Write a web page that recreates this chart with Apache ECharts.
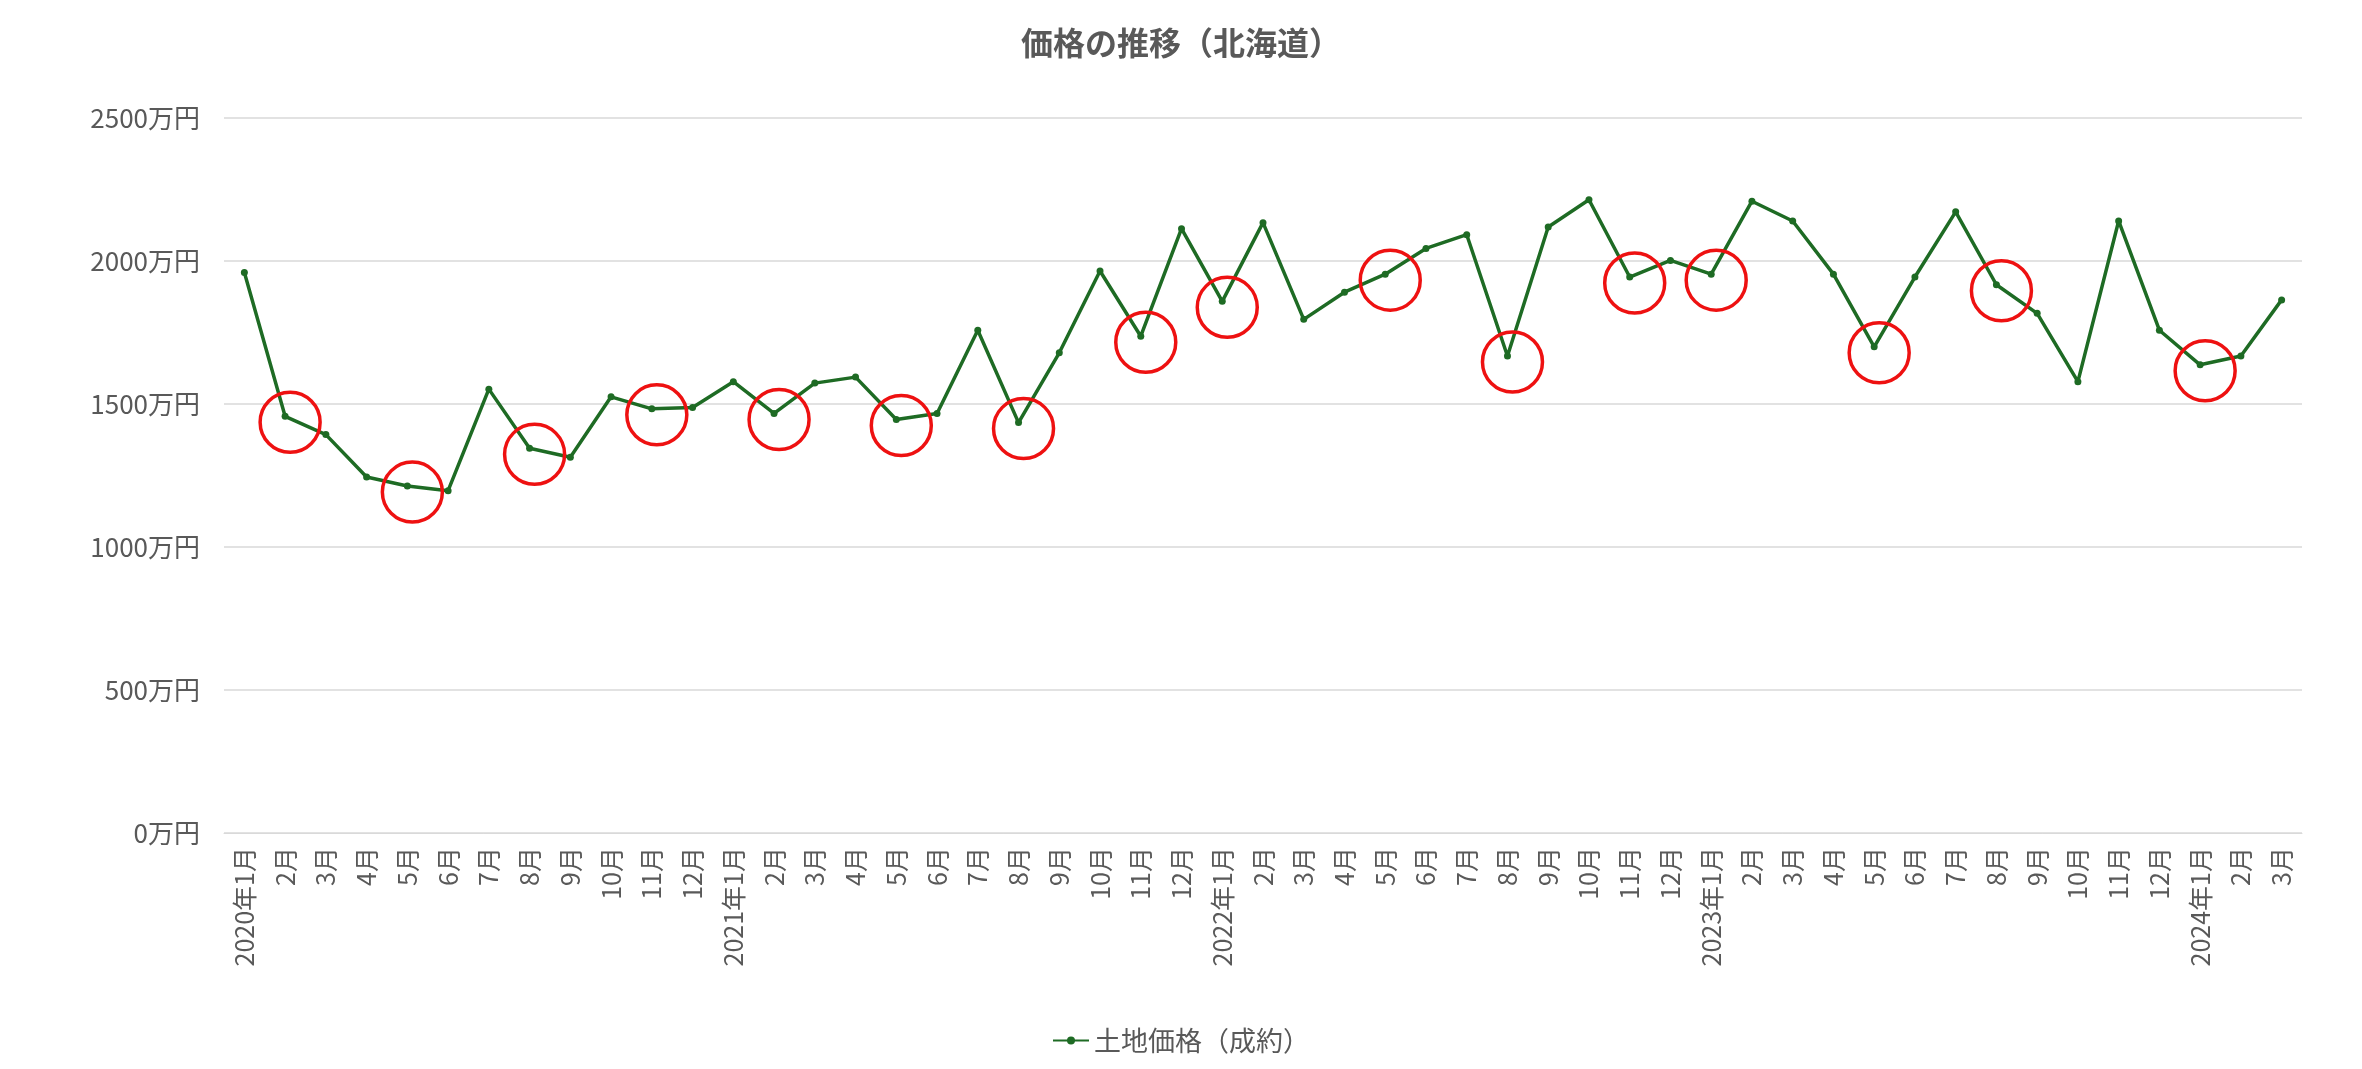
<!DOCTYPE html>
<html><head><meta charset="utf-8">
<script src="https://cdn.jsdelivr.net/npm/echarts@6/dist/echarts.min.js"></script>
<style>html,body{margin:0;padding:0;background:#fff}#c{width:2362px;height:1069px}</style>
</head><body><div id="c"></div>
<script>
const categories = ["2020年1月","2月","3月","4月","5月","6月","7月","8月","9月","10月","11月","12月",
"2021年1月","2月","3月","4月","5月","6月","7月","8月","9月","10月","11月","12月",
"2022年1月","2月","3月","4月","5月","6月","7月","8月","9月","10月","11月","12月",
"2023年1月","2月","3月","4月","5月","6月","7月","8月","9月","10月","11月","12月",
"2024年1月","2月","3月"];
const landPrice = [1960,1457,1393,1245,1213,1197,1552,1345,1314,1525,1483,1488,
1578,1467,1573,1594,1446,1467,1758,1435,1679,1965,1737,2113,
1859,2134,1796,1891,1954,2044,2092,1668,2119,2214,1944,2002,
1954,2209,2140,1954,1700,1944,2172,1917,1817,1578,2140,1758,
1637,1668,1864];
const circledIdx = [1,4,7,10,13,16,19,22,24,28,31,34,36,40,43,48];
const yTicks = [0,500,1000,1500,2000,2500];

const chart = echarts.init(document.getElementById('c'));
chart.setOption({
  backgroundColor:'#fff',
  title:{text:'価格の推移（北海道）',left:'center',top:22,textStyle:{fontSize:32,fontWeight:'bold',color:'#595959',fontFamily:'Noto Sans CJK JP'}},
  legend:{bottom:10,itemWidth:36,itemHeight:10,textStyle:{fontSize:27,color:'#595959',fontFamily:'Noto Sans CJK JP'},data:['土地価格（成約）']},
  grid:{left:224,right:60,top:118,bottom:236},
  xAxis:{type:'category',data:categories,boundaryGap:true,
    axisLine:{lineStyle:{color:'#d9d9d9'}},axisTick:{show:false},
    axisLabel:{rotate:90,interval:0,fontSize:25,color:'#595959',fontFamily:'Noto Sans CJK JP',margin:14}},
  yAxis:{type:'value',min:yTicks[0],max:yTicks[yTicks.length-1],interval:500,
    axisLabel:{formatter:v=>v+'万円',fontSize:26,color:'#595959',fontFamily:'Noto Sans CJK JP',margin:24},
    splitLine:{lineStyle:{color:'#d9d9d9',width:1.5}},axisLine:{show:false},axisTick:{show:false}},
  series:[{name:'土地価格（成約）',type:'line',data:landPrice,symbol:'circle',symbolSize:7,
    lineStyle:{color:'#1e6b24',width:3.5},itemStyle:{color:'#1e6b24'},
    markPoint:{symbol:'circle',symbolSize:60,symbolOffset:[5,6],label:{show:false},silent:true,
      itemStyle:{color:'rgba(0,0,0,0)',borderColor:'#ee1111',borderWidth:3.5},
      data:circledIdx.map(i=>({coord:[i,landPrice[i]]}))}}]
});
</script></body></html>
